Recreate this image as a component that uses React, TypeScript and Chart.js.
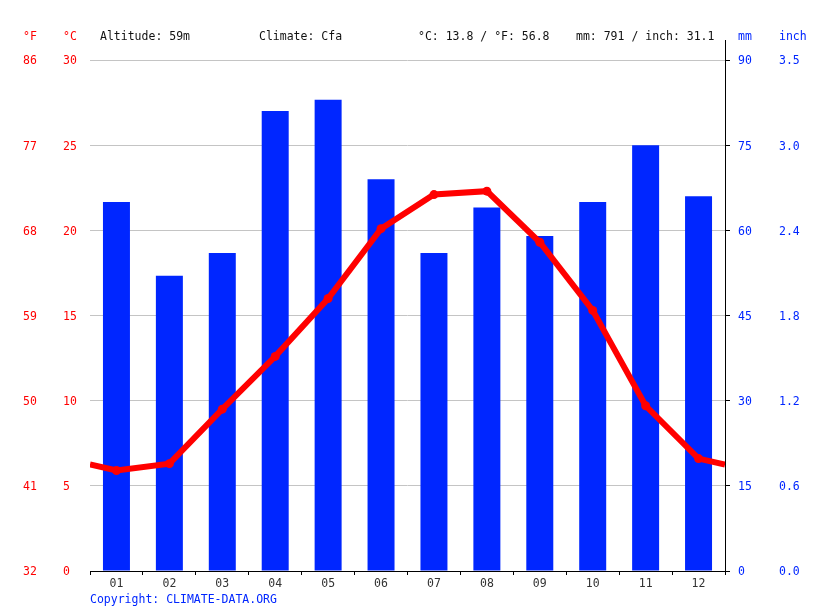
import React, { useEffect, useRef } from "react";
import { Chart, registerables } from "chart.js";

Chart.register(...registerables);

const months = ["01", "02", "03", "04", "05", "06", "07", "08", "09", "10", "11", "12"];
const precipitationMm = [65, 52, 56, 81, 83, 69, 56, 64, 59, 65, 75, 66];
const temperatureC = [5.9, 6.3, 9.5, 12.6, 16.0, 20.1, 22.1, 22.3, 19.3, 15.3, 9.7, 6.6];
const headerTexts = ["Altitude: 59m", "Climate: Cfa", "°C: 13.8 / °F: 56.8", "mm: 791 / inch: 31.1"];
const copyrightText = "Copyright: CLIMATE-DATA.ORG";

const FONT_FAMILY = '"DejaVu Sans Mono", monospace';
const FONT_SIZE = 11.5;
const RED = "#ff0000";
const BLUE = "#0026ff";
const BAR_BLUE = "#0026ff";

export default function App() {
  const canvasRef = useRef<HTMLCanvasElement | null>(null);

  useEffect(() => {
    document.body.style.margin = "0";
    document.body.style.overflow = "hidden";
    const canvas = canvasRef.current;
    if (!canvas) return;

    const wrap = (temperatureC[temperatureC.length - 1] + temperatureC[0]) / 2;
    const lineData = [
      { x: 0, y: wrap },
      ...temperatureC.map((t, i) => ({ x: i + 0.5, y: t })),
      { x: months.length, y: wrap },
    ];
    const pointRadii = lineData.map((_, i) => (i === 0 || i === lineData.length - 1 ? 0 : 4.5));

    const decorPlugin = {
      id: "decor",
      afterDraw(chart: any) {
        const { ctx, chartArea, scales } = chart;
        ctx.save();
        ctx.strokeStyle = "#000";
        ctx.lineWidth = 1;
        ctx.beginPath();
        const rx = Math.round(chartArea.right) + 0.5;
        ctx.moveTo(rx, chartArea.top - 20);
        ctx.lineTo(rx, chartArea.top);
        ctx.stroke();

        ctx.font = `${FONT_SIZE}px ${FONT_FAMILY}`;
        ctx.textBaseline = "alphabetic";
        ctx.textAlign = "left";
        const hy = chartArea.top - 20;
        ctx.fillStyle = RED;
        ctx.fillText("°F", scales.yF.left, hy);
        ctx.fillText("°C", scales.yC.left, hy);
        ctx.fillStyle = BLUE;
        ctx.fillText("mm", scales.yMM.left + 13, hy);
        ctx.fillText("inch", scales.yIn.left + 4, hy);
        ctx.fillStyle = "#111";
        const hx = [10, 169, 328, 486];
        headerTexts.forEach((t, i) => ctx.fillText(t, chartArea.left + hx[i], hy));
        ctx.fillStyle = BLUE;
        ctx.fillText(copyrightText, chartArea.left, chartArea.bottom + 32);
        ctx.restore();
      },
    };

    const font = { family: FONT_FAMILY, size: FONT_SIZE };

    const chart = new Chart(canvas, {
      type: "bar",
      data: {
        labels: months,
        datasets: [
          {
            type: "line",
            data: lineData as any,
            xAxisID: "xl",
            yAxisID: "yC",
            borderColor: RED,
            backgroundColor: RED,
            borderWidth: 6,
            pointRadius: pointRadii,
            pointBackgroundColor: RED,
            pointBorderWidth: 0,
            tension: 0,
            order: 0,
          } as any,
          {
            type: "bar",
            data: precipitationMm,
            xAxisID: "x",
            yAxisID: "yMM",
            backgroundColor: BAR_BLUE,
            borderWidth: 0,
            inflateAmount: 0,
            barPercentage: 0.51,
            categoryPercentage: 1,
            grouped: false,
            order: 1,
          },
        ],
      },
      options: {
        responsive: false,
        animation: false,
        events: [],
        layout: { padding: { top: 60, left: 23, right: 0, bottom: 0 } },
        plugins: { legend: { display: false }, tooltip: { enabled: false }, title: { display: false } },
        scales: {
          x: {
            type: "category",
            offset: true,
            grid: {
              offset: true,
              drawOnChartArea: false,
              drawTicks: true,
              tickLength: 4,
              color: "#000",
            },
            border: { display: true, color: "#000" },
            ticks: { font, color: "#333", padding: 2, maxRotation: 0 },
            afterFit: (s: any) => {
              s.height = 40;
            },
          },
          xl: {
            type: "linear",
            display: false,
            offset: false,
            grid: { offset: false },
            min: 0,
            max: 12,
          },
          yF: {
            type: "linear",
            position: "left",
            weight: 1,
            min: 0,
            max: 30,
            grid: { display: false, drawTicks: false },
            border: { display: false },
            ticks: {
              stepSize: 5,
              font,
              color: RED,
              crossAlign: "far",
              padding: 0,
              labelOffset: 1.5,
              callback: (v: any) => String(Math.round(32 + 1.8 * Number(v))),
            },
            afterFit: (s: any) => {
              s.width = 40;
            },
          },
          yC: {
            type: "linear",
            position: "left",
            weight: 0,
            min: 0,
            max: 30,
            grid: { display: true, drawOnChartArea: true, drawTicks: false, color: "#c4c4c4" },
            border: { display: false },
            ticks: { stepSize: 5, font, color: RED, crossAlign: "far", padding: 0, labelOffset: 1.5 },
            afterFit: (s: any) => {
              s.width = 27;
            },
          },
          yMM: {
            type: "linear",
            position: "right",
            weight: 0,
            min: 0,
            max: 90,
            grid: { display: true, drawOnChartArea: false, drawTicks: true, tickLength: 5, color: "#000" },
            border: { display: true, color: "#000" },
            ticks: { stepSize: 15, font, color: BLUE, padding: 8, labelOffset: 1.5 },
            afterFit: (s: any) => {
              s.width = 50;
            },
          },
          yIn: {
            type: "linear",
            position: "right",
            weight: 1,
            min: 0,
            max: 90,
            grid: { display: false, drawTicks: false },
            border: { display: false },
            ticks: {
              stepSize: 15,
              font,
              color: BLUE,
              padding: 4,
              labelOffset: 1.5,
              callback: (v: any) => (Number(v) / 25.4).toFixed(1),
            },
            afterFit: (s: any) => {
              s.width = 40;
            },
          },
        },
      } as any,
      plugins: [decorPlugin],
    });

    return () => chart.destroy();
  }, []);

  return (
    <div style={{ width: 815, height: 611, background: "#fff" }}>
      <canvas ref={canvasRef} width={815} height={611} style={{ display: "block" }} />
    </div>
  );
}
